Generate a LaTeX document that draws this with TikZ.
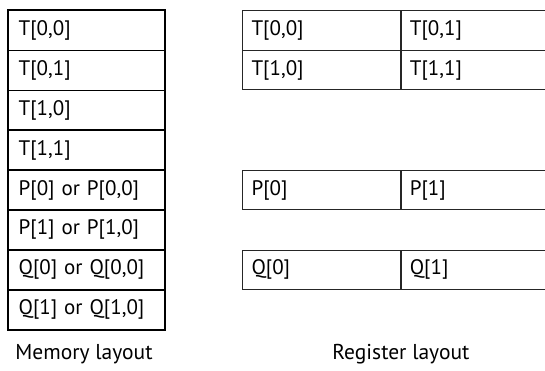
\documentclass[tikz,border=0pt]{standalone}
\usepackage{fontspec}
\setmainfont{PT Sans}
\usetikzlibrary{positioning, matrix}

\tikzset{
    cellfont/.style={font=\fontsize{21}{24}\selectfont},
    memcell/.style={draw, line width=0.9pt, cellfont, minimum height=39.4pt, text width=136pt, inner xsep=10pt, align=left, anchor=center},
    regcell/.style={draw=black!85, line width=0.7pt, cellfont, minimum height=39.4pt, text width=140pt, inner xsep=9pt, align=left, anchor=center},
    caption/.style={font=\fontsize{21.5}{24}\selectfont}
}

\begin{document}
\begin{tikzpicture}[x=1pt, y=-1pt]
    \clip (0,0) rectangle (545,370);

    % Memory layout as one column of cells
    \matrix[matrix of nodes, nodes={memcell}, inner sep=0pt, anchor=north west,
            row sep=-\pgflinewidth] (mem) at (8,10) {
        T[0,0] \\
        T[0,1] \\
        T[1,0] \\
        T[1,1] \\
        P[0] or P[0,0] \\
        P[1] or P[1,0] \\
        Q[0] or Q[0,0] \\
        Q[1] or Q[1,0] \\
    };
    \draw[line width=1.6pt] (mem.north west) rectangle (mem.south east);
    \node[caption] (memlabel) at (84,354) {Memory layout};

    % Register layout - rows lined up with the memory cells
    \matrix[matrix of nodes, nodes={regcell}, inner sep=0pt, anchor=north west,
            row sep=-\pgflinewidth, column sep=-\pgflinewidth] (treg) at (242,10) {
        T[0,0] & T[0,1] \\
        T[1,0] & T[1,1] \\
    };
    \matrix[matrix of nodes, nodes={regcell}, inner sep=0pt, anchor=north west,
            column sep=-\pgflinewidth] (preg) at (treg.west |- mem-5-1.north) {
        P[0] & P[1] \\
    };
    \matrix[matrix of nodes, nodes={regcell}, inner sep=0pt, anchor=north west,
            column sep=-\pgflinewidth] (qreg) at (treg.west |- mem-7-1.north) {
        Q[0] & Q[1] \\
    };
    \node[caption] (reglabel) at (treg-1-1.east |- memlabel) {Register layout};
\end{tikzpicture}
\end{document}
